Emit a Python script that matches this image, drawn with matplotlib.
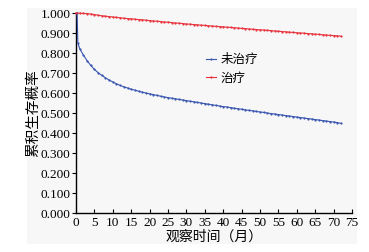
import matplotlib.pyplot as plt
import matplotlib.patches as patches

plt.rcParams['font.family'] = ['Liberation Serif', 'Noto Sans CJK SC']

# 观察时间（月）
untreated_t = [0.3, 0.5] + list(range(1, 73))
untreated_s = [1.000, 0.850,
               0.822, 0.790, 0.762, 0.738, 0.718, 0.702, 0.688, 0.676, 0.665, 0.655,
               0.646, 0.638, 0.631, 0.625, 0.619, 0.614, 0.609, 0.604, 0.600, 0.596,
               0.592, 0.588, 0.584, 0.580, 0.577, 0.574, 0.571, 0.568, 0.565, 0.562,
               0.559, 0.556, 0.553, 0.550, 0.547, 0.544, 0.541, 0.538, 0.535, 0.532,
               0.530, 0.527, 0.524, 0.521, 0.519, 0.516, 0.513, 0.511, 0.508, 0.505,
               0.503, 0.500, 0.497, 0.495, 0.492, 0.490, 0.487, 0.485, 0.482, 0.480,
               0.477, 0.475, 0.472, 0.470, 0.467, 0.465, 0.462, 0.460, 0.457, 0.455,
               0.452, 0.448]

treated_t = list(range(0, 73))
treated_s = [1.000,
             0.999, 0.998, 0.997, 0.995, 0.992, 0.989, 0.986, 0.984, 0.982, 0.980,
             0.978, 0.976, 0.974, 0.972, 0.971, 0.969, 0.967, 0.966, 0.964, 0.962,
             0.960, 0.959, 0.957, 0.955, 0.954, 0.952, 0.950, 0.949, 0.947, 0.945,
             0.944, 0.942, 0.941, 0.939, 0.938, 0.936, 0.935, 0.933, 0.932, 0.931,
             0.929, 0.928, 0.926, 0.925, 0.923, 0.922, 0.920, 0.919, 0.917, 0.916,
             0.915, 0.913, 0.912, 0.910, 0.909, 0.907, 0.906, 0.904, 0.903, 0.901,
             0.900, 0.899, 0.897, 0.896, 0.894, 0.893, 0.891, 0.890, 0.888, 0.887,
             0.886, 0.884]

x_ticks = list(range(0, 80, 5))
y_ticks = [i / 10 for i in range(11)]

fig = plt.figure(figsize=(3.69, 2.52), dpi=100)
fig.patches.append(patches.Rectangle((27 / 369, 1 - 244 / 252), 330 / 369, 236 / 252,
                                     transform=fig.transFigure, facecolor='#f7f7f7',
                                     edgecolor='none', zorder=-1))
ax = fig.add_axes([76 / 369, 1 - 213 / 252, 276 / 369, 200 / 252])
ax.set_facecolor('none')

ax.plot(untreated_t, untreated_s, color='#3a56b0', lw=0.8, marker='o', ms=1.6,
        markeredgewidth=0, label='未治疗', clip_on=False, zorder=3)
ax.plot(treated_t, treated_s, color='#e8323c', lw=0.8, marker='o', ms=1.6,
        markeredgewidth=0, label='治疗', clip_on=False, zorder=3)

ax.set_xlim(0, 75)
ax.set_ylim(0, 1.0)
ax.set_xticks(x_ticks)
ax.set_yticks(y_ticks)
ax.set_yticklabels([f"{v:.3f}" for v in y_ticks])
ax.tick_params(axis='x', direction='in', length=3, width=0.8, labelsize=9.5, pad=3)
ax.tick_params(axis='y', direction='out', length=3, width=0.8, labelsize=9.5, pad=1)
for s in ['top', 'right']:
    ax.spines[s].set_visible(False)
for s in ['left', 'bottom']:
    ax.spines[s].set_linewidth(1.0)

ax.set_xlabel("观察时间（月）", fontsize=10, labelpad=1)
ax.set_ylabel("累积生存概率", fontsize=10.5, labelpad=0)

ax.legend(loc='upper left', bbox_to_anchor=(0.43, 0.85), frameon=False, fontsize=9,
          handlelength=0.8, handletextpad=0.4, labelspacing=0.5)

plt.savefig('out.png', dpi=100)
